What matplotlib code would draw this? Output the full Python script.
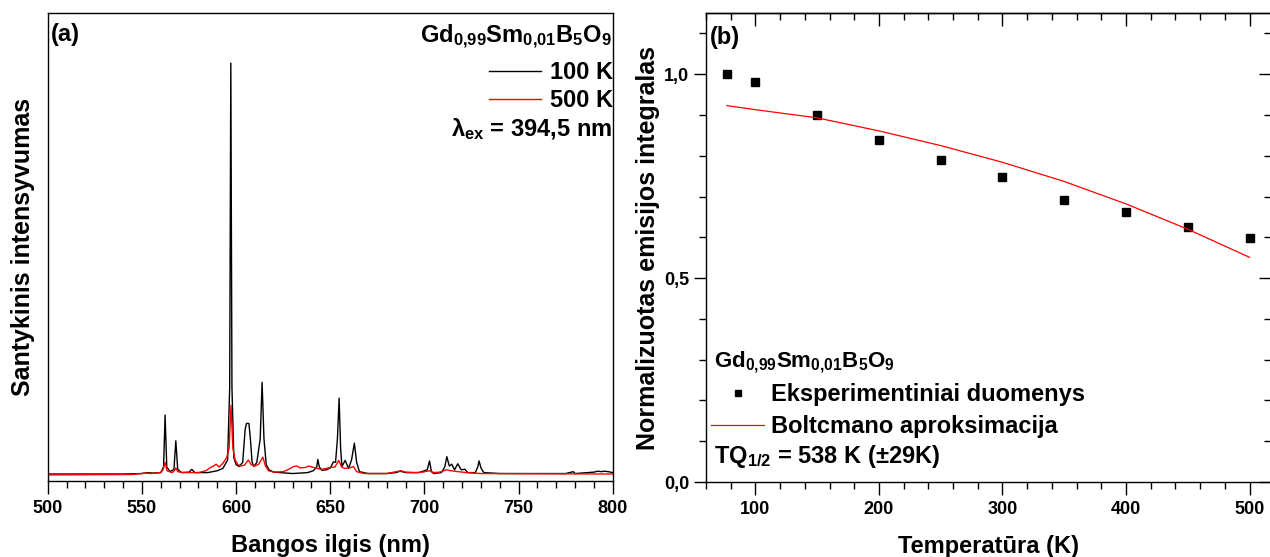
import matplotlib
matplotlib.use("Agg")
import matplotlib.pyplot as plt
from matplotlib.lines import Line2D
from matplotlib.ticker import MultipleLocator, FixedLocator, NullFormatter

plt.rcParams["font.family"] = ["Liberation Sans", "DejaVu Sans"]
plt.rcParams["font.weight"] = "bold"
plt.rcParams["mathtext.fontset"] = "custom"
plt.rcParams["mathtext.rm"] = "Liberation Sans:bold"
plt.rcParams["mathtext.it"] = "Liberation Sans:bold"
plt.rcParams["mathtext.bf"] = "Liberation Sans:bold"
plt.rcParams["mathtext.default"] = "rm"
plt.rcParams["axes.linewidth"] = 1.0

# emission spectra, lambda_ex = 394.5 nm (relative intensity)
wl_100K = [500, 540, 550, 553, 556, 560, 561.5, 562.3, 563.2, 565, 567, 568, 569,
           571, 575, 576.5, 578, 585, 590, 593, 595.5, 596.6, 597.2, 597.8, 598.8,
           600, 601.6, 603.5, 604.8, 605.5, 606.8, 607.6, 608.5, 609.5, 611, 612.8,
           613.8, 614.8, 616, 617.5, 620, 630, 638, 641, 642.8, 643.4, 644.2, 645.5,
           648, 650, 651.7, 652.8, 653.8, 654.7, 655.5, 656.2, 657.9, 659.7, 661.3,
           662.8, 664, 665.5, 670, 680, 685, 687, 690, 697, 701.5, 702.7, 703.7, 705,
           709, 710.8, 711.9, 713.2, 714.5, 716, 717.7, 719.5, 721.5, 723, 727, 728.3,
           729.0, 730, 731.5, 740, 775, 779, 780, 786.6, 790, 792, 794, 795.5, 797.6,
           800]
int_100K = [0.015, 0.015, 0.016, 0.018, 0.017, 0.018, 0.030, 0.141, 0.030, 0.020,
            0.025, 0.086, 0.025, 0.018, 0.019, 0.025, 0.018, 0.018, 0.022, 0.027,
            0.045, 0.200, 0.893, 0.200, 0.050, 0.035, 0.031, 0.040, 0.110, 0.123,
            0.123, 0.090, 0.040, 0.031, 0.040, 0.090, 0.211, 0.090, 0.035, 0.024,
            0.019, 0.016, 0.018, 0.022, 0.030, 0.046, 0.030, 0.023, 0.024, 0.028,
            0.041, 0.040, 0.090, 0.177, 0.070, 0.031, 0.044, 0.027, 0.045, 0.081,
            0.040, 0.020, 0.016, 0.016, 0.018, 0.021, 0.018, 0.018, 0.024, 0.043,
            0.020, 0.016, 0.018, 0.030, 0.052, 0.032, 0.036, 0.024, 0.037, 0.024,
            0.025, 0.018, 0.018, 0.030, 0.043, 0.028, 0.018, 0.016, 0.016, 0.020,
            0.016, 0.018, 0.019, 0.021, 0.020, 0.021, 0.020, 0.018]

wl_500K = [500, 545, 552, 555, 560, 561.3, 562.3, 563.3, 566, 567.3, 568, 569, 572,
           580, 584, 586, 588, 589.4, 591, 593, 595, 596.3, 597.3, 598.3, 599.5, 601,
           602.5, 604.5, 606.5, 608, 609.8, 612, 614.2, 615.5, 617.2, 620, 625, 628,
           630.5, 632.3, 634, 636.8, 638.5, 641.2, 644.7, 647, 650, 652.5, 654.5, 656,
           657.5, 660, 662.3, 664, 668, 680, 685, 687.5, 690, 695, 699, 702.7, 705,
           708, 711.9, 714, 718, 722, 730, 800]
int_500K = [0.013, 0.014, 0.017, 0.016, 0.018, 0.025, 0.040, 0.022, 0.018, 0.022,
            0.028, 0.020, 0.018, 0.018, 0.022, 0.028, 0.032, 0.036, 0.030, 0.038,
            0.050, 0.070, 0.162, 0.070, 0.045, 0.035, 0.032, 0.034, 0.045, 0.035,
            0.032, 0.036, 0.051, 0.033, 0.022, 0.019, 0.020, 0.025, 0.031, 0.032,
            0.028, 0.029, 0.032, 0.029, 0.025, 0.026, 0.029, 0.030, 0.044, 0.030,
            0.027, 0.028, 0.031, 0.020, 0.016, 0.016, 0.020, 0.022, 0.019, 0.018,
            0.019, 0.022, 0.018, 0.019, 0.024, 0.022, 0.020, 0.018, 0.016, 0.015]

# normalized integrated emission vs temperature
temp_K = [77, 100, 150, 200, 250, 300, 350, 400, 450, 500]
norm_int = [1.000, 0.980, 0.900, 0.838, 0.790, 0.747, 0.691, 0.662, 0.625, 0.599]
fit_T = [77, 100, 150, 200, 250, 300, 350, 400, 450, 500]
fit_I = [0.923, 0.913, 0.893, 0.861, 0.825, 0.784, 0.737, 0.682, 0.620, 0.551]

formula = r"Gd$_{0{,}99}$Sm$_{0{,}01}$B$_5$O$_9$"
FS_NOTE = 17

fig = plt.figure(figsize=(12.7, 5.57), dpi=100)
ax1 = fig.add_axes([0.0376, 0.1364, 0.4449, 0.8402])
ax2 = fig.add_axes([0.5559, 0.1346, 0.4445, 0.8420])

# --- (a) spectra ---
ax1.plot(wl_100K, int_100K, color="black", lw=1.0)
ax1.plot(wl_500K, int_500K, color="red", lw=1.0)
ax1.set_xlim(500, 800)
ax1.set_ylim(0, 1.0)
ax1.set_yticks([])
ax1.xaxis.set_major_locator(MultipleLocator(50))
ax1.xaxis.set_minor_locator(MultipleLocator(10))
ax1.tick_params(axis="x", which="major", direction="out", length=9, width=1.0,
                labelsize=13, pad=5)
ax1.tick_params(axis="x", which="minor", direction="out", length=5, width=1.0)
ax1.set_xlabel("Bangos ilgis (nm)", fontsize=17, fontweight="bold", labelpad=12)
ax1.set_ylabel("Santykinis intensyvumas", fontsize=18, fontweight="bold", labelpad=9)

ax1.text(0.005, 0.955, "(a)", transform=ax1.transAxes, fontsize=FS_NOTE,
         fontweight="bold", va="center", ha="left")
ax1.text(0.998, 0.936, formula, transform=ax1.transAxes, fontsize=FS_NOTE,
         va="baseline", ha="right")
handles_a = [Line2D([], [], color="black", lw=1.0),
             Line2D([], [], color="red", lw=1.0)]
ax1.legend(handles_a, ["100 K", "500 K"], loc="upper right",
           bbox_to_anchor=(1.0, 0.897), frameon=False, fontsize=FS_NOTE,
           handlelength=2.2, handletextpad=0.35, labelspacing=0.22,
           borderaxespad=0.0, borderpad=0.0)
ax1.text(0.998, 0.736, r"λ$_{ex}$ = 394,5 nm", transform=ax1.transAxes,
         fontsize=FS_NOTE, va="baseline", ha="right")

# --- (b) thermal quenching ---
ax2.plot(temp_K, norm_int, ls="none", marker="s", ms=5.3, color="black")
ax2.plot(fit_T, fit_I, color="red", lw=0.9)
ax2.set_xlim(60, 517)
ax2.set_ylim(0, 1.15)
ax2.xaxis.set_major_locator(FixedLocator([100, 200, 300, 400, 500]))
ax2.xaxis.set_minor_locator(MultipleLocator(20))
ax2.set_yticks([0.0, 0.5, 1.0])
ax2.set_yticklabels(["0,0", "0,5", "1,0"])
ax2.yaxis.set_minor_locator(MultipleLocator(0.1))
ax2.tick_params(which="major", direction="out", length=9, width=1.0,
                labelsize=13, pad=5)
ax2.tick_params(axis="y", which="major", pad=3)
ax2.tick_params(which="minor", direction="out", length=5, width=1.0)

top = ax2.secondary_xaxis("top")
top.xaxis.set_major_locator(FixedLocator([100, 200, 300, 400, 500]))
top.xaxis.set_minor_locator(MultipleLocator(20))
top.xaxis.set_major_formatter(NullFormatter())
top.tick_params(which="major", direction="in", length=9, width=1.0)
top.tick_params(which="minor", direction="in", length=5, width=1.0)

right = ax2.secondary_yaxis("right")
right.yaxis.set_major_locator(FixedLocator([0.0, 0.5, 1.0]))
right.yaxis.set_minor_locator(MultipleLocator(0.1))
right.yaxis.set_major_formatter(NullFormatter())
right.tick_params(which="major", direction="in", length=9, width=1.0)
right.tick_params(which="minor", direction="in", length=5, width=1.0)

ax2.set_xlabel("Temperatūra (K)", fontsize=17, fontweight="bold", labelpad=12)
ax2.set_ylabel("Normalizuotas emisijos integralas", fontsize=18,
               fontweight="bold", labelpad=3)

ax2.text(0.007, 0.947, "(b)", transform=ax2.transAxes, fontsize=FS_NOTE,
         fontweight="bold", va="center", ha="left")
ax2.text(0.015, 0.245, formula, transform=ax2.transAxes, fontsize=FS_NOTE - 1,
         va="baseline", ha="left")
handles_b = [Line2D([], [], ls="none", marker="s", ms=4.5, color="black"),
             Line2D([], [], color="red", lw=0.9)]
ax2.legend(handles_b, ["Eksperimentiniai duomenys", "Boltcmano aproksimacija"],
           loc="upper left", bbox_to_anchor=(0.009, 0.211), frameon=False,
           fontsize=FS_NOTE, handlelength=2.25, handletextpad=0.3,
           labelspacing=0.38, borderaxespad=0.0, borderpad=0.0)
ax2.text(0.015, 0.040, r"TQ$_{1/2}$ = 538 K (±29K)", transform=ax2.transAxes,
         fontsize=FS_NOTE, va="baseline", ha="left")

fig.savefig("out.png", dpi=100)
